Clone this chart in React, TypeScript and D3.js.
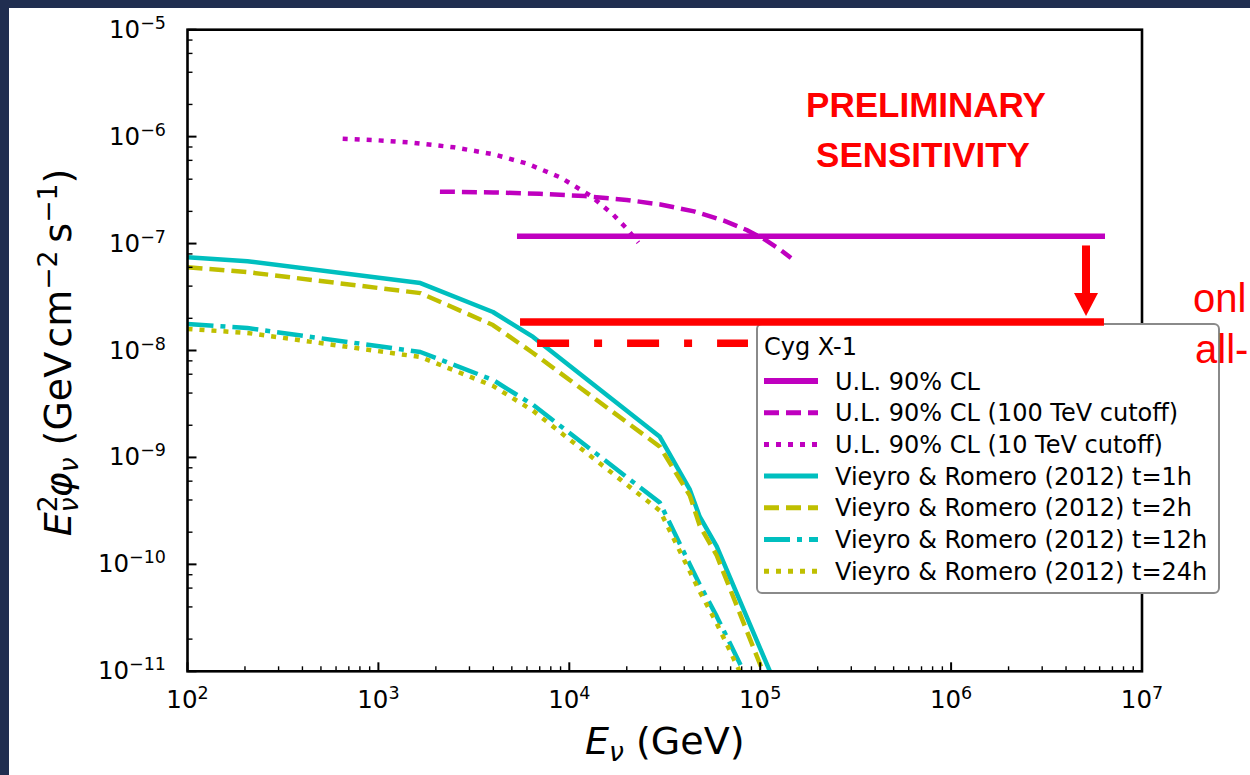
import React from 'react';
import * as d3 from 'd3';

// ---------- data ----------
const modelEnergies = [100, 206, 1660, 3980, 6460, 29800, 42800, 48200, 59200, 120000];
const vr1h = [7.46e-8, 6.84e-8, 4.27e-8, 2.29e-8, 1.34e-8, 1.56e-9, 4.99e-10, 2.79e-10, 1.47e-10, 7.6e-12];
const vr2h = [6.01e-8, 5.41e-8, 3.44e-8, 1.73e-8, 9.48e-9, 1.26e-9, 4.39e-10, 2.31e-10, 1.21e-10, 5.1e-12];
const vr12h = [1.77e-8, 1.62e-8, 9.68e-9, 5.31e-9, 3.1e-9, 3.78e-10, 9.98e-11, 6.49e-11, 3.26e-11, 2.5e-12];
const vr24h = [1.59e-8, 1.46e-8, 8.69e-9, 4.67e-9, 2.73e-9, 3.18e-10, 8.57e-11, 5.58e-11, 2.81e-11, 2.0e-12];

const ulEnergies = [5320, 6.4e6];
const ulValues = [1.17e-7, 1.17e-7];

const cut100Energies = [2100, 4000, 7000, 12000, 20000, 30000, 45000, 65000, 85000, 105000, 125000, 145000];
const cut100Values = [3.06e-7, 3.01e-7, 2.92e-7, 2.78e-7, 2.56e-7, 2.32e-7, 2.0e-7, 1.63e-7, 1.34e-7, 1.1e-7, 8.97e-8, 7.34e-8];

const cut10Energies = [650, 1000, 1500, 2500, 4000, 6000, 9000, 13000, 17000, 20000, 23000];
const cut10Values = [9.56e-7, 9.23e-7, 8.78e-7, 7.94e-7, 6.84e-7, 5.6e-7, 4.15e-7, 2.78e-7, 1.86e-7, 1.38e-7, 1.02e-7];

const sensEnergies = [5520, 6.32e6];
const sensValues = [1.85e-8, 1.85e-8];
const sensAllEnergies = [6780, 8.63e4];
const sensAllValues = [1.17e-8, 1.17e-8];
const arrowEnergy = 5.09e6;
const arrowFrom = 9.6e-8;
const arrowTo = 2.1e-8;

const xTickExps = [2, 3, 4, 5, 6, 7];
const yTickExps = [-11, -10, -9, -8, -7, -6, -5];
const xMinorSubs = [2, 3, 4, 5, 6, 7, 8, 9];
const yMinorSubs = [2, 4, 6, 8];

const legendTitle = 'Cyg X-1';
const legendLabels = [
  'U.L. 90% CL',
  'U.L. 90% CL (100 TeV cutoff)',
  'U.L. 90% CL (10 TeV cutoff)',
  'Vieyro & Romero (2012) t=1h',
  'Vieyro & Romero (2012) t=2h',
  'Vieyro & Romero (2012) t=12h',
  'Vieyro & Romero (2012) t=24h',
];

// ---------- styles ----------
const MAG = '#bf00bf';
const CYA = '#00bfbf';
const YEL = '#bfbf00';
const RED = '#ff0000';
const DASH = '15,7';
const DOT = '5,7';
const DASHDOT = '26,7,5,7';

const seriesStyles = [
  { color: MAG, dash: undefined, width: 5.5 },
  { color: MAG, dash: DASH, width: 4.5 },
  { color: MAG, dash: DOT, width: 4.5 },
  { color: CYA, dash: undefined, width: 4.5 },
  { color: YEL, dash: DASH, width: 4.5 },
  { color: CYA, dash: DASHDOT, width: 4.5 },
  { color: YEL, dash: DOT, width: 4.5 },
];

const W = 1250;
const H = 775;
const X0 = 187.5, X1 = 1142, Y0 = 29.7, Y1 = 671.3;
const FONT = 'DejaVu Sans';

export default function App() {
  const x = d3.scaleLog().domain([1e2, 1e7]).range([X0, X1]);
  const y = d3.scaleLog().domain([1e-11, 1e-5]).range([Y1, Y0]);
  const line = d3
    .line<[number, number]>()
    .x((d) => x(d[0]))
    .y((d) => y(d[1]));
  const zip = (es: number[], vs: number[]) => es.map((e, i) => [e, vs[i]] as [number, number]);

  const series = [
    zip(ulEnergies, ulValues),
    zip(cut100Energies, cut100Values),
    zip(cut10Energies, cut10Values),
    zip(modelEnergies, vr1h),
    zip(modelEnergies, vr2h),
    zip(modelEnergies, vr12h),
    zip(modelEnergies, vr24h),
  ];
  const order = [3, 4, 5, 6, 0, 1, 2];

  const xMinor: number[] = [];
  for (let e = 2; e < 7; e++) xMinorSubs.forEach((s) => xMinor.push(s * Math.pow(10, e)));
  const yMinor: number[] = [];
  for (let e = -11; e < -5; e++) yMinorSubs.forEach((s) => yMinor.push(s * Math.pow(10, e)));

  const tickFs = 24.5;
  const supFs = 17.5;
  const labFs = 38;
  const labSub = 26.6;

  const legX = 757, legY = 324, legW = 462, legH = 269;
  const rowY0 = 381, rowDy = 31.7;

  const ax = x(arrowEnergy);
  const ayFrom = y(arrowFrom);
  const ayTo = y(arrowTo);

  return (
    <svg width={W} height={H} style={{ position: 'absolute', left: 0, top: 0, display: 'block' }}>
      <rect x={0} y={0} width={W} height={H} fill="#202e50" />
      <rect x={9} y={8} width={W - 9} height={H - 8} fill="#ffffff" />
      <defs>
        <clipPath id="plotclip">
          <rect x={X0} y={Y0} width={X1 - X0} height={Y1 - Y0} />
        </clipPath>
      </defs>

      {/* curves */}
      <g clipPath="url(#plotclip)" fill="none">
        {order.map((i) => (
          <path
            key={i}
            d={line(series[i]) || ''}
            stroke={seriesStyles[i].color}
            strokeWidth={seriesStyles[i].width}
            strokeDasharray={seriesStyles[i].dash}
            strokeLinejoin="round"
          />
        ))}
      </g>

      {/* ticks */}
      <g stroke="#000">
        {xTickExps.map((e) => (
          <line key={'xM' + e} x1={x(Math.pow(10, e))} x2={x(Math.pow(10, e))} y1={Y1} y2={Y1 - 9} strokeWidth={2} />
        ))}
        {xMinor.map((v, i) => (
          <line key={'xm' + i} x1={x(v)} x2={x(v)} y1={Y1} y2={Y1 - 5} strokeWidth={1.4} />
        ))}
        {yTickExps.map((e) => (
          <line key={'yM' + e} x1={X0} x2={X0 + 9} y1={y(Math.pow(10, e))} y2={y(Math.pow(10, e))} strokeWidth={2} />
        ))}
        {yMinor.map((v, i) => (
          <line key={'ym' + i} x1={X0} x2={X0 + 5} y1={y(v)} y2={y(v)} strokeWidth={1.4} />
        ))}
      </g>
      <rect x={X0} y={Y0} width={X1 - X0} height={Y1 - Y0} fill="none" stroke="#000" strokeWidth={2.6} />

      {/* tick labels */}
      <g fontFamily={FONT} fill="#000">
        {xTickExps.map((e) => (
          <text key={'xl' + e} x={x(Math.pow(10, e))} y={708} textAnchor="middle" fontSize={tickFs}>
            10
            <tspan fontSize={supFs} dy={-9}>
              {String(e)}
            </tspan>
          </text>
        ))}
        {yTickExps.map((e) => (
          <text key={'yl' + e} x={166} y={y(Math.pow(10, e)) + 8} textAnchor="end" fontSize={tickFs}>
            10
            <tspan fontSize={supFs} dy={-9}>
              {'\u2212' + String(-e)}
            </tspan>
          </text>
        ))}
      </g>

      {/* axis labels */}
      <text x={(X0 + X1) / 2} y={754} textAnchor="middle" fontFamily={FONT} fontSize={labFs} fill="#000">
        <tspan fontStyle="italic">E</tspan>
        <tspan fontStyle="italic" fontSize={labSub} dy={7}>ν</tspan>
        <tspan dy={-7}> (GeV)</tspan>
      </text>
      <text
        transform={`translate(71,${(Y0 + Y1) / 2 + 2}) rotate(-90)`}
        textAnchor="middle"
        fontFamily={FONT}
        fontSize={labFs}
        fill="#000"
      >
        <tspan fontStyle="italic">E</tspan>
        <tspan fontSize={labSub} dy={-14}>2</tspan>
        <tspan fontStyle="italic" fontSize={labSub} dx={-17} dy={21}>ν</tspan>
        <tspan fontStyle="italic" dy={-7}>φ</tspan>
        <tspan fontStyle="italic" fontSize={labSub} dy={7}>ν</tspan>
        <tspan dy={-7}> (GeV</tspan>
        <tspan dx={4}>cm</tspan>
        <tspan fontSize={labSub} dy={-14}>{'\u22122'}</tspan>
        <tspan dy={14} dx={8}>s</tspan>
        <tspan fontSize={labSub} dy={-14}>{'\u22121'}</tspan>
        <tspan dy={14}>)</tspan>
      </text>

      {/* legend */}
      <g fontFamily={FONT} fontSize={24} fill="#000">
        <rect x={legX} y={legY} width={legW} height={legH} rx={5} fill="#fff" stroke="#8a8a8a" strokeWidth={2} />
        <text x={764} y={355}>{legendTitle}</text>
        {legendLabels.map((lab, i) => {
          const cy = rowY0 + i * rowDy;
          const st = seriesStyles[i];
          return (
            <g key={'lg' + i}>
              <line
                x1={764}
                x2={818}
                y1={cy}
                y2={cy}
                stroke={st.color}
                strokeWidth={st.width + 0.5}
                strokeDasharray={st.dash}
              />
              <text x={835} y={cy + 8.5}>{lab}</text>
            </g>
          );
        })}
      </g>

      {/* red overlay annotations */}
      <path d={line(zip(sensEnergies, sensValues)) || ''} stroke={RED} strokeWidth={7.5} fill="none" />
      <path
        d={line(zip(sensAllEnergies, sensAllValues)) || ''}
        stroke={RED}
        strokeWidth={7.5}
        strokeDasharray="32,25,8,25"
        fill="none"
      />
      <line x1={ax} x2={ax} y1={ayFrom} y2={ayTo - 20} stroke={RED} strokeWidth={8} />
      <path d={`M${ax - 12},${ayTo - 23} L${ax + 12},${ayTo - 23} L${ax},${ayTo} Z`} fill={RED} />

      <g fontFamily="Liberation Sans" fontWeight="bold" fontSize={35} fill={RED} textAnchor="middle">
        <text x={926} y={117}>PRELIMINARY</text>
        <text x={923} y={167}>SENSITIVITY</text>
      </g>
      <g fontFamily="Liberation Sans" fontSize={40} fill={RED}>
        <text x={1193} y={312}>onl</text>
        <text x={1195} y={363}>all-</text>
      </g>
    </svg>
  );
}
